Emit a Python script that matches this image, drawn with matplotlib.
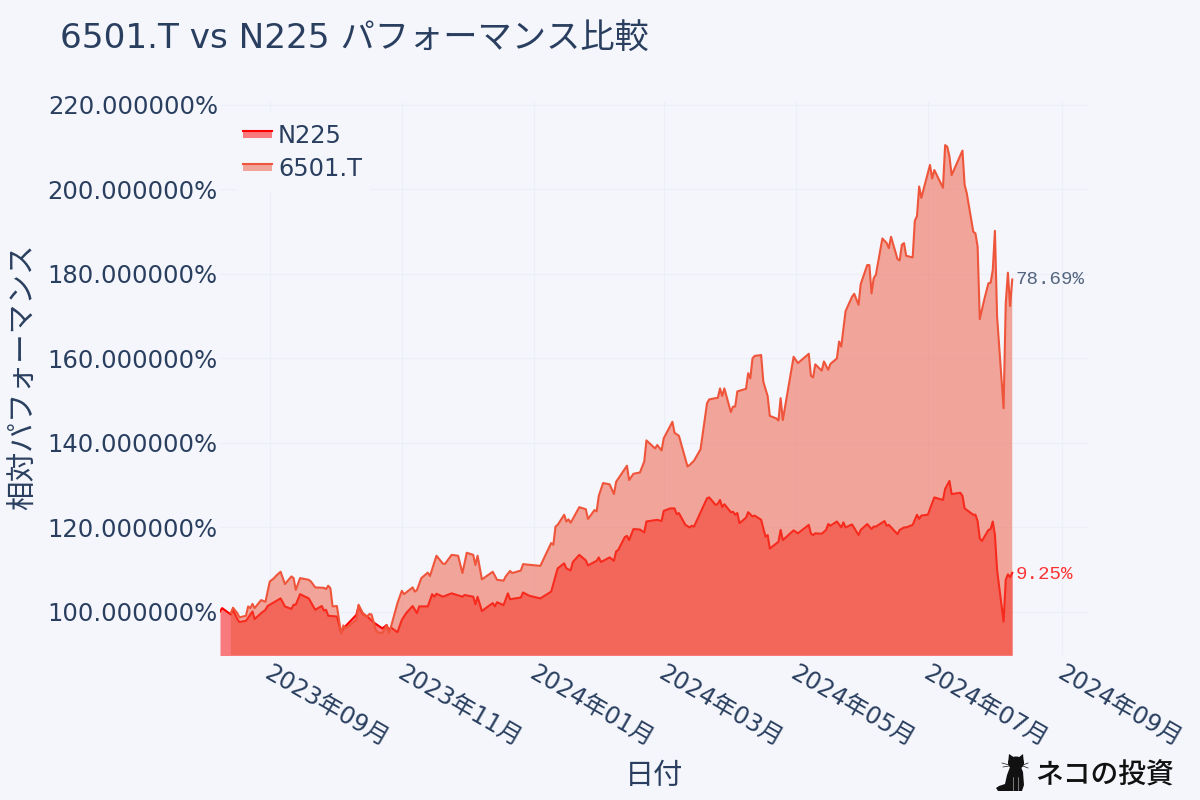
from __future__ import annotations

from datetime import date, timedelta

import matplotlib

matplotlib.use("Agg")

import matplotlib.dates as mdates
import matplotlib.pyplot as plt
from matplotlib.patches import Polygon, Rectangle, Ellipse
from matplotlib.transforms import ScaledTranslation

plt.rcParams["font.family"] = ["DejaVu Sans", "Noto Sans CJK JP"]

START = date(2023, 8, 9)

# trading days are given as day offsets from START
days_n225 = [
    0, 1, 5, 6, 8, 9, 12, 15, 16, 19, 21, 22, 28, 30, 33, 34, 35, 37, 41, 44, 46, 47, 48, 49, 50,
    54, 56, 57, 63, 64, 66, 68, 71, 75, 77, 78, 79, 82, 84, 86, 89, 91, 92, 96, 98, 99, 100, 103,
    107, 112, 113, 117, 118, 119, 121, 126, 127, 128, 131, 133, 134, 139, 140, 143, 148, 153, 156,
    159, 160, 162, 163, 166, 169, 170, 174, 175, 176, 180, 182, 183, 184, 187, 188, 189, 191, 194,
    196, 197, 202, 204, 205, 208, 210, 211, 212, 215, 217, 218, 219, 225, 226, 229, 230, 231, 232,
    233, 236, 237, 238, 239, 240, 243, 244, 246, 247, 250, 252, 253, 254, 258, 259, 260, 265, 267,
    272, 273, 274, 275, 278, 280, 281, 282, 285, 287, 288, 289, 292, 295, 296, 299, 301, 302, 303,
    307, 308, 309, 313, 314, 316, 317, 320, 322, 323, 324, 327, 330, 334, 335, 337, 338, 342, 343,
    344, 348, 349, 350, 351, 352, 355, 356, 357, 358, 359, 362, 363, 364, 365, 366,
]
values_n225 = [
    100.1, 100.9, 99.4, 100.5, 98.3, 97.6, 97.9, 100.1, 98.3, 99.7, 100.5, 101.4, 103.2, 101.3,
    100.7, 101.7, 101.7, 104.2, 103.2, 100.5, 101.1, 101.4, 100.3, 100.5, 99.1, 98.9, 95.0, 96.1,
    99.3, 101.3, 99.5, 98.9, 97.5, 96.1, 96.9, 95.6, 96.3, 95.2, 98.1, 99.7, 101.4, 99.7, 101.3,
    101.3, 104.2, 103.6, 104.3, 103.6, 104.4, 103.6, 104.0, 103.6, 101.8, 103.6, 100.2, 102.1,
    101.3, 102.3, 101.6, 104.4, 103.0, 103.4, 104.6, 103.8, 103.2, 104.8, 110.3, 111.5, 110.3,
    109.8, 111.8, 113.5, 112.2, 111.0, 112.1, 112.9, 111.8, 112.9, 112.1, 114.3, 114.7, 117.7,
    118.0, 117.0, 119.6, 119.5, 118.8, 121.4, 121.8, 121.5, 123.9, 124.5, 124.5, 123.1, 123.4,
    120.6, 120.0, 120.4, 120.2, 126.9, 127.1, 125.3, 125.6, 126.5, 124.8, 125.5, 123.6, 123.7,
    123.0, 123.4, 121.0, 122.3, 123.6, 122.6, 122.8, 121.8, 117.8, 118.2, 115.0, 116.6, 119.4,
    117.0, 119.3, 118.6, 120.6, 118.5, 118.2, 118.6, 118.5, 119.4, 120.8, 120.4, 121.4, 120.0,
    121.2, 120.0, 120.7, 118.2, 119.4, 120.8, 119.6, 120.2, 120.2, 121.5, 120.4, 120.6, 118.4,
    119.4, 120.0, 120.0, 120.6, 123.0, 122.0, 122.8, 123.0, 127.1, 126.5, 129.1, 131.0, 127.9,
    128.2, 127.5, 124.5, 123.0, 123.0, 121.5, 117.4, 116.8, 119.4, 119.6, 121.4, 118.2, 109.9,
    97.7, 107.6, 108.9, 108.2, 109.25,
]

days_6501 = [
    5, 6, 8, 9, 12, 13, 14, 15, 16, 19, 21, 23, 25, 26, 28, 30, 33, 34, 35, 37, 41, 42, 44, 48, 49,
    50, 51, 52, 54, 56, 57, 58, 63, 64, 66, 68, 69, 70, 72, 73, 75, 77, 78, 79, 82, 84, 85, 89, 90,
    91, 93, 96, 97, 100, 103, 104, 107, 110, 112, 114, 117, 118, 119, 121, 126, 128, 131, 132, 134,
    135, 139, 140, 148, 153, 154, 155, 156, 159, 160, 161, 162, 166, 169, 170, 173, 174, 175, 177,
    180, 182, 183, 188, 189, 191, 194, 196, 197, 201, 202, 204, 205, 209, 210, 212, 216, 217, 219,
    222, 225, 226, 230, 231, 232, 233, 236, 237, 238, 239, 243, 244, 245, 246, 247, 250, 251, 253,
    254, 257, 258, 259, 260, 262, 265, 267, 272, 273, 274, 275, 278, 279, 281, 282, 285, 286, 287,
    289, 292, 293, 295, 296, 299, 300, 301, 302, 303, 306, 308, 309, 310, 313, 314, 315, 316, 317,
    320, 321, 322, 323, 324, 328, 329, 330, 334, 335, 336, 337, 338, 343, 344, 345, 348, 349, 350,
    351, 353, 355, 356, 357, 358, 359, 362, 363, 364, 365, 366,
]
values_6501 = [
    99.7, 101.0, 99.7, 98.7, 99.1, 101.3, 100.9, 101.9, 100.9, 102.8, 102.4, 107.2, 108.0, 108.6,
    109.5, 106.6, 108.4, 108.0, 105.2, 108.0, 107.6, 107.2, 105.8, 105.7, 105.4, 106.2, 105.6,
    101.3, 101.4, 94.8, 96.8, 96.1, 98.1, 101.7, 99.7, 98.9, 99.5, 99.4, 95.7, 95.1, 95.0, 96.8,
    95.0, 96.5, 102.1, 105.0, 104.2, 105.8, 104.8, 105.2, 108.0, 109.3, 108.5, 113.3, 111.4,
    111.4, 113.5, 113.3, 109.2, 114.0, 113.5, 111.1, 113.3, 107.7, 109.5, 107.6, 107.4, 108.4,
    109.7, 109.2, 109.8, 111.3, 110.9, 116.3, 115.9, 120.2, 120.6, 123.0, 121.4, 121.9, 121.1,
    124.8, 124.3, 122.0, 124.1, 123.8, 127.5, 130.5, 130.2, 127.9, 130.8, 134.6, 131.2, 132.7,
    133.0, 135.6, 140.6, 138.7, 139.5, 138.2, 141.1, 145.0, 142.4, 141.7, 134.4, 134.8, 135.8,
    138.5, 149.4, 150.3, 150.7, 152.9, 151.1, 152.9, 147.3, 148.6, 148.6, 152.2, 152.8, 156.5,
    155.3, 160.0, 160.6, 160.8, 154.5, 151.1, 146.4, 145.8, 145.3, 150.6, 145.4, 151.4, 160.4,
    158.9, 161.1, 155.9, 155.5, 158.6, 157.1, 159.3, 157.3, 158.7, 160.0, 164.0, 162.8, 171.2,
    174.6, 175.3, 172.7, 177.6, 182.1, 182.1, 175.4, 179.0, 179.8, 188.4, 187.3, 186.1, 188.8,
    183.5, 183.2, 186.9, 187.3, 184.3, 183.9, 192.6, 193.7, 200.7, 198.0, 205.8, 202.6, 204.6,
    200.4, 210.5, 210.1, 207.8, 203.4, 209.2, 201.1, 199.1, 190.0, 189.6, 186.5, 169.3, 173.8,
    177.8, 177.9, 180.9, 190.2, 169.9, 148.2, 173.1, 180.3, 172.4, 178.69,
]

y_ticks = [100, 120, 140, 160, 180, 200, 220]
x_ticks = [
    date(2023, 9, 1), date(2023, 11, 1), date(2024, 1, 1), date(2024, 3, 1),
    date(2024, 5, 1), date(2024, 7, 1), date(2024, 9, 1),
]

BG = "#F4F6FB"
GRID = "#EBF0F8"
TEXT = "#2A3F5F"
RED = "#FF0000"
ORANGE = "#EF553B"
LW = 1.5


def to_dates(days: list[int]) -> list[date]:
    return [START + timedelta(days=d) for d in days]


def draw_series(ax, days, values, color, zorder):
    dates = to_dates(days)
    ax.fill_between(dates, values, 0, color=color, alpha=0.5, linewidth=0, zorder=zorder)
    ax.plot(dates, values, color=color, linewidth=LW, zorder=zorder + 0.5, solid_joinstyle="round")


def draw_legend(over) -> None:
    over.add_patch(Rectangle((237, 113), 133, 78, color=BG, linewidth=0))
    for y, color, label in ((131, RED, "N225"), (164, ORANGE, "6501.T")):
        over.add_patch(Rectangle((243, y), 29, 7, color=color, alpha=0.5, linewidth=0))
        over.plot([243, 272], [y, y], color=color, linewidth=LW)
        over.text(278, y + 5, label, color=TEXT, fontsize=17.4, va="center", ha="left")


def draw_watermark(over) -> None:
    # small black cat next to the site name
    ink = "#111111"
    body = [
        (996, 788), (998, 791), (1022, 791), (1024, 785), (1023, 772), (1021, 767),
        (1010, 767), (1007, 775), (1005, 784), (999, 786),
    ]
    over.add_patch(Polygon(body, closed=True, color=ink, linewidth=0))
    over.add_patch(Ellipse((1016, 763), 16, 13, color=ink, linewidth=0))
    over.add_patch(Polygon([(1008, 764), (1009, 754), (1015, 758)], closed=True, color=ink, linewidth=0))
    over.add_patch(Polygon([(1018, 758), (1023, 754), (1024, 764)], closed=True, color=ink, linewidth=0))
    for x0, y0, x1, y1 in ((1002, 763, 1009, 765), (1003, 767, 1009, 766), (1023, 765, 1028, 763), (1023, 766, 1028, 768)):
        over.plot([x0, x1], [y0, y1], color=ink, linewidth=0.5)
    for x in (1013, 1018):
        over.plot([x, x], [777, 790], color="#CCCCCC", linewidth=0.4)
    over.text(1035, 775, "ネコの投資", color=ink, fontsize=20, fontweight="medium",
              va="center", ha="left", family=["Noto Sans CJK JP"])


def main() -> int:
    fig = plt.figure(figsize=(12, 8), dpi=100, facecolor=BG)
    ax = fig.add_axes([220 / 1200, 1 - 655 / 800, 868 / 1200, 553 / 800], facecolor=BG)

    draw_series(ax, days_n225, values_n225, RED, 2)
    draw_series(ax, days_6501, values_6501, ORANGE, 3)

    ax.set_xlim(START, START + timedelta(days=401))
    ax.set_ylim(89.8, 220.7)
    for spine in ax.spines.values():
        spine.set_visible(False)
    ax.grid(True, color=GRID, linewidth=0.75, zorder=0)
    ax.set_axisbelow(True)

    ax.set_yticks(y_ticks)
    ax.set_yticklabels([f"{v:.6f}%" for v in y_ticks], color=TEXT, fontsize=17.5)
    ax.set_xticks(x_ticks)
    ax.xaxis.set_major_formatter(mdates.DateFormatter("%Y年%m月"))
    ax.tick_params(axis="both", length=0, colors=TEXT)
    ax.tick_params(axis="y", pad=1.5)
    ax.tick_params(axis="x", pad=12)
    shift = ScaledTranslation(-3.5 / 72 * 0.72, 0, fig.dpi_scale_trans)
    for label in ax.get_xticklabels():
        label.set_rotation(-30)
        label.set_ha("left")
        label.set_va("center")
        label.set_rotation_mode("anchor")
        label.set_fontsize(17.2)
        label.set_color(TEXT)
        label.set_transform(label.get_transform() + shift)

    end = to_dates([days_6501[-1]])[0]
    ax.annotate("78.69%", (end, values_6501[-1]), xytext=(2.4, 0), textcoords="offset points",
                color=TEXT, alpha=0.8, fontsize=13.8, family="Liberation Mono", va="center",
                annotation_clip=False)
    ax.annotate("9.25%", (end, values_n225[-1]), xytext=(2.4, -1.5), textcoords="offset points",
                color=RED, alpha=0.8, fontsize=13.8, family="Liberation Mono", va="center",
                annotation_clip=False)

    fig.text(60 / 1200, 1 - 38.5 / 800, "6501.T vs N225 パフォーマンス比較", color=TEXT, fontsize=24.7,
             va="center", ha="left")
    fig.text(654 / 1200, 1 - 776 / 800, "日付", color=TEXT, fontsize=21, va="center", ha="center")
    fig.text(22 / 1200, 1 - 377 / 800, "相対パフォーマンス", color=TEXT, fontsize=21.3, rotation=90,
             va="center", ha="center")

    over = fig.add_axes([0, 0, 1, 1], zorder=5)
    over.set_xlim(0, 1200)
    over.set_ylim(800, 0)
    over.axis("off")
    draw_legend(over)
    draw_watermark(over)

    fig.savefig("out.png", dpi=100, facecolor=BG)
    plt.close(fig)
    return 0


if __name__ == "__main__":
    raise SystemExit(main())
